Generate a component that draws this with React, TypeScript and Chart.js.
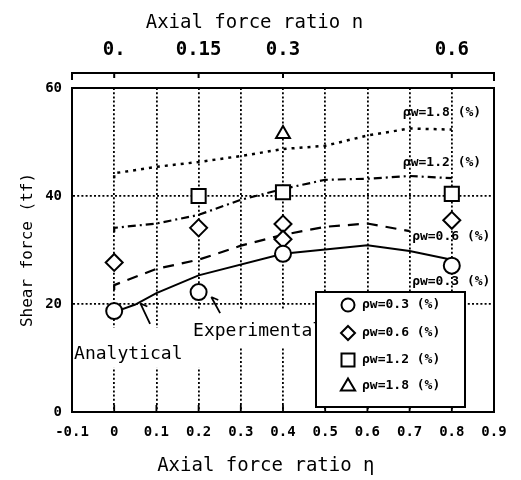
import React, { useEffect, useRef } from "react";
import { Chart, registerables } from "chart.js";

Chart.register(...registerables);

const FONT = "'DejaVu Sans Mono', 'Liberation Mono', monospace";

// Bottom axis: axial force ratio η
const xTickValues = [-0.1, 0, 0.1, 0.2, 0.3, 0.4, 0.5, 0.6, 0.7, 0.8, 0.9];
const xTickLabels = ["-0.1", "0", "0.1", "0.2", "0.3", "0.4", "0.5", "0.6", "0.7", "0.8", "0.9"];
// Top axis: axial force ratio n
const topTickValues = [0, 0.2, 0.4, 0.8];
const topTickLabels = ["0.", "0.15", "0.3", "0.6"];
// Y axis: shear force (tf)
const yTickValues = [0, 20, 40, 60];
const yTickLabels = ["0", "20", "40", "60"];

const seriesLabels = ["ρw=0.3 (%)", "ρw=0.6 (%)", "ρw=1.2 (%)", "ρw=1.8 (%)"];

// Experimental results
const expEta03 = [0, 0.2, 0.4, 0.8];
const expV03 = [18.7, 22.2, 29.3, 27.1];
const expEta06 = [0, 0.2, 0.4, 0.4, 0.8];
const expV06 = [27.7, 34.1, 34.8, 32.0, 35.5];
const expEta12 = [0.2, 0.4, 0.8];
const expV12 = [40.0, 40.7, 40.4];
const expEta18 = [0.4];
const expV18 = [51.5];

// Analytical curves
const anaEta03 = [0, 0.05, 0.1, 0.2, 0.4, 0.6, 0.7, 0.8];
const anaV03 = [18.5, 19.9, 22.0, 25.3, 29.3, 30.9, 29.8, 28.2];
const anaEta06 = [0, 0, 0.1, 0.2, 0.3, 0.4, 0.5, 0.6, 0.7];
const anaV06 = [22.6, 23.5, 26.5, 28.2, 30.8, 32.8, 34.3, 34.9, 33.5];
const anaEta12 = [0, 0, 0.1, 0.2, 0.3, 0.4, 0.5, 0.6, 0.7, 0.8];
const anaV12 = [33.3, 34.1, 34.9, 36.5, 39.3, 41.3, 43.0, 43.2, 43.7, 43.3];
const anaEta18 = [0, 0, 0.1, 0.2, 0.3, 0.4, 0.5, 0.6, 0.7, 0.8];
const anaV18 = [43.3, 44.2, 45.4, 46.3, 47.4, 48.7, 49.3, 51.2, 52.5, 52.3];

const pts = (xs: number[], ys: number[]) => xs.map((x, i) => ({ x, y: ys[i] }));

function drawSymbol(ctx: CanvasRenderingContext2D, style: string, x: number, y: number, r: number) {
  ctx.beginPath();
  if (style === "circle") {
    ctx.arc(x, y, r, 0, Math.PI * 2);
  } else if (style === "diamond") {
    ctx.moveTo(x, y - r);
    ctx.lineTo(x + r, y);
    ctx.lineTo(x, y + r);
    ctx.lineTo(x - r, y);
    ctx.closePath();
  } else if (style === "square") {
    ctx.rect(x - r, y - r, 2 * r, 2 * r);
  } else {
    ctx.moveTo(x, y - r);
    ctx.lineTo(x + r * 0.95, y + r * 0.6);
    ctx.lineTo(x - r * 0.95, y + r * 0.6);
    ctx.closePath();
  }
  ctx.fillStyle = "#fff";
  ctx.fill();
  ctx.stroke();
}

const overlayPlugin = {
  id: "overlay",
  beforeDatasetsDraw(chart: any) {
    const { ctx, chartArea } = chart;
    const sx = (v: number) => chart.scales.x.getPixelForValue(v);
    const sy = (v: number) => chart.scales.y.getPixelForValue(v);
    ctx.save();
    // short solid ends of the vertical grid lines at the bottom axis
    ctx.strokeStyle = "#000";
    ctx.lineWidth = 1.8;
    xTickValues.slice(1, -1).forEach((v) => {
      ctx.beginPath();
      ctx.moveTo(sx(v), chartArea.bottom);
      ctx.lineTo(sx(v), chartArea.bottom - 7);
      ctx.stroke();
    });
    // white patches behind the annotation texts
    ctx.fillStyle = "#fff";
    ctx.fillRect(chartArea.left + 2, sy(15.6), sx(0.215) - chartArea.left - 2, sy(8.2) - sy(15.6));
    ctx.fillRect(sx(0.185), sy(19.0), sx(0.52) - sx(0.185), sy(11.9) - sy(19.0));
    ctx.restore();
  },
  afterDatasetsDraw(chart: any) {
    const { ctx, chartArea } = chart;
    const sx = (v: number) => chart.scales.x.getPixelForValue(v);
    const sy = (v: number) => chart.scales.y.getPixelForValue(v);
    ctx.save();
    ctx.fillStyle = "#000";
    ctx.strokeStyle = "#000";

    // Annotation texts
    ctx.font = `18px ${FONT}`;
    ctx.textAlign = "left";
    ctx.textBaseline = "alphabetic";
    ctx.fillText("Analytical", sx(-0.095), sy(9.8));
    ctx.fillText("Experimental", sx(0.187), sy(14.1));

    // Leader lines
    ctx.lineWidth = 1.8;
    const leader = (e1: number, v1: number, e2: number, v2: number) => {
      const bx = sx(e1), by = sy(v1), tx = sx(e2), ty = sy(v2);
      ctx.beginPath();
      ctx.moveTo(bx, by);
      ctx.lineTo(tx, ty);
      ctx.moveTo(tx, ty);
      ctx.lineTo(tx + 7, ty + 3);
      ctx.stroke();
    };
    leader(0.085, 16.3, 0.062, 20.1);
    leader(0.251, 18.3, 0.23, 21.3);

    // Curve labels
    ctx.font = `bold 13px ${FONT}`;
    ctx.textBaseline = "middle";
    ctx.fillText(seriesLabels[3], sx(0.684), sy(55.4));
    ctx.fillText(seriesLabels[2], sx(0.684), sy(46.1));
    ctx.fillText(seriesLabels[1], sx(0.706), sy(32.4));
    ctx.fillText(seriesLabels[0], sx(0.706), sy(24.2));

    // Legend box
    const bl = 316, bt = 292, br = 465, bb = 407;
    ctx.fillStyle = "#fff";
    ctx.fillRect(bl, bt, br - bl, bb - bt);
    ctx.lineWidth = 2;
    ctx.strokeRect(bl, bt, br - bl, bb - bt);
    const styles = ["circle", "diamond", "square", "triangle"];
    const radii = [6.5, 7, 6.5, 7.5];
    const rows = [13, 41, 68, 94];
    styles.forEach((st, i) => {
      ctx.lineWidth = 2;
      ctx.strokeStyle = "#000";
      drawSymbol(ctx, st, bl + 32, bt + rows[i], radii[i]);
      ctx.fillStyle = "#000";
      ctx.font = `bold 13px ${FONT}`;
      ctx.textAlign = "left";
      ctx.textBaseline = "middle";
      ctx.fillText(seriesLabels[i], bl + 46, bt + rows[i]);
    });

    // Separate top axis line (axial force ratio n)
    const topY = chartArea.top - 15;
    const x2 = chart.scales.x2;
    const xl = x2.getPixelForValue(-0.1), xr = x2.getPixelForValue(0.9);
    ctx.strokeStyle = "#000";
    ctx.lineWidth = 2;
    ctx.beginPath();
    ctx.moveTo(xl, topY + 7);
    ctx.lineTo(xl, topY);
    ctx.lineTo(xr, topY);
    ctx.lineTo(xr, topY + 8);
    topTickValues.forEach((v) => {
      const px = x2.getPixelForValue(v);
      ctx.moveTo(px, topY);
      ctx.lineTo(px, topY + 5);
    });
    ctx.stroke();
    ctx.restore();
  },
};

export default function App() {
  const ref = useRef<HTMLCanvasElement>(null);
  useEffect(() => {
    const canvas = ref.current;
    if (!canvas) return;
    const tickFont = (size: number) => ({ family: FONT, size, weight: "bold" as const });
    const pointDs = (label: string, xs: number[], ys: number[], style: string, r: number) => ({
      label,
      data: pts(xs, ys),
      xAxisID: "x",
      yAxisID: "y",
      showLine: false,
      pointStyle: style,
      pointRadius: r,
      pointHoverRadius: r,
      pointBorderWidth: 2,
      pointBorderColor: "#000",
      pointBackgroundColor: "#fff",
      order: 0,
    });
    const lineDs = (label: string, xs: number[], ys: number[], dash: number[], w: number) => ({
      label,
      data: pts(xs, ys),
      xAxisID: "x",
      yAxisID: "y",
      showLine: true,
      fill: false,
      borderColor: "#000",
      borderWidth: w,
      borderDash: dash,
      pointRadius: 0,
      pointHoverRadius: 0,
      tension: 0,
      order: 1,
    });
    const chart = new Chart(canvas, {
      type: "scatter",
      data: {
        datasets: [
          pointDs(seriesLabels[0], expEta03, expV03, "circle", 8),
          pointDs(seriesLabels[1], expEta06, expV06, "rectRot", 8.5),
          pointDs(seriesLabels[2], expEta12, expV12, "rect", 10),
          pointDs(seriesLabels[3], expEta18, expV18, "triangle", 8),
          lineDs("Analytical " + seriesLabels[0], anaEta03, anaV03, [], 2),
          lineDs("Analytical " + seriesLabels[1], anaEta06, anaV06, [11, 8], 2.2),
          lineDs("Analytical " + seriesLabels[2], anaEta12, anaV12, [8, 4, 2, 4], 2.2),
          lineDs("Analytical " + seriesLabels[3], anaEta18, anaV18, [3, 5], 2.5),
        ] as any,
      },
      options: {
        responsive: false,
        animation: false,
        devicePixelRatio: 1,
        layout: { padding: 0 },
        events: [],
        plugins: {
          legend: { display: false },
          tooltip: { enabled: false },
        },
        scales: {
          x: {
            type: "linear",
            position: "bottom",
            min: -0.1,
            max: 0.9,
            afterBuildTicks: (s: any) => {
              s.ticks = xTickValues.map((v) => ({ value: v }));
            },
            afterFit: (s: any) => {
              s.height = 68;
            },
            ticks: {
              callback: (_v: any, i: number) => xTickLabels[i],
              autoSkip: false,
              maxRotation: 0,
              padding: 12,
              color: "#000",
              font: tickFont(14),
            },
            grid: { display: true, drawTicks: false, color: "#000", lineWidth: 1.8 },
            border: { display: true, color: "#000", width: 2, dash: [2, 2.2] },
            title: {
              display: true,
              text: "Axial force ratio η   ",
              color: "#000",
              font: { family: FONT, size: 19 },
              padding: { top: 0, bottom: 3 },
            },
          },
          x2: {
            type: "linear",
            position: "top",
            min: -0.1,
            max: 0.9,
            afterBuildTicks: (s: any) => {
              s.ticks = topTickValues.map((v) => ({ value: v }));
            },
            afterFit: (s: any) => {
              s.height = 88;
            },
            ticks: {
              callback: (_v: any, i: number) => topTickLabels[i],
              autoSkip: false,
              maxRotation: 0,
              padding: 27,
              color: "#000",
              font: tickFont(19),
            },
            grid: { display: false, drawTicks: false },
            border: { display: true, color: "#000", width: 2 },
            title: {
              display: true,
              text: "Axial force ratio n     ",
              color: "#000",
              font: { family: FONT, size: 19 },
              padding: { top: 12, bottom: 0 },
            },
          },
          y: {
            type: "linear",
            position: "left",
            min: 0,
            max: 60,
            afterBuildTicks: (s: any) => {
              s.ticks = yTickValues.map((v) => ({ value: v }));
            },
            afterFit: (s: any) => {
              s.width = 72;
            },
            ticks: {
              callback: (_v: any, i: number) => yTickLabels[i],
              padding: 10,
              color: "#000",
              font: tickFont(14),
            },
            grid: { display: true, drawTicks: false, color: "#000", lineWidth: 1.8 },
            border: { display: true, color: "#000", width: 2, dash: [2, 2.2] },
            title: {
              display: true,
              text: "Shear force (tf)",
              color: "#000",
              font: { family: FONT, size: 16 },
              padding: { top: 18, bottom: 0 },
            },
          },
          y2: {
            type: "linear",
            position: "right",
            min: 0,
            max: 60,
            display: true,
            afterFit: (s: any) => {
              s.width = 27;
            },
            ticks: { display: false },
            grid: { display: false, drawTicks: false },
            border: { display: true, color: "#000", width: 2 },
          },
        },
      } as any,
      plugins: [overlayPlugin],
    });
    return () => chart.destroy();
  }, []);
  return (
    <div style={{ position: "absolute", left: 0, top: 0, width: 521, height: 480, background: "#fff" }}>
      <canvas ref={ref} width={521} height={480} style={{ display: "block", width: 521, height: 480 }} />
    </div>
  );
}
